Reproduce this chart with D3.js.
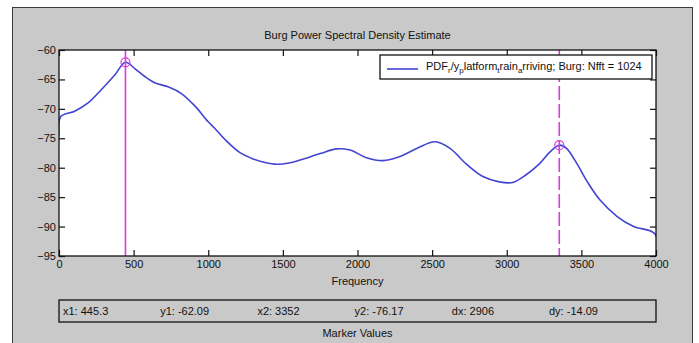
<!DOCTYPE html>
<html>
<head>
<meta charset="utf-8">
<script src="https://cdn.jsdelivr.net/npm/d3@7"></script>
<style>
  html, body { margin: 0; padding: 0; background: #ffffff; }
  svg { display: block; }
  text { font-family: "Liberation Sans", Arial, sans-serif; fill: #111; }
</style>
</head>
<body>
<svg id="chart" width="699" height="343"></svg>
<script>
// Burg PSD estimate (dB/Hz) read across the band, Hz
const freqs = [0, 12, 105, 195, 285, 375, 445.3, 510, 575, 645, 735, 820, 910, 1000,
  1040, 1120, 1210, 1300, 1380, 1460, 1540, 1615, 1750, 1860, 1950, 2060, 2170, 2285, 2400,
  2520, 2620, 2730, 2840, 2950, 3040, 3130, 3220, 3290, 3352, 3400, 3470, 3540, 3625,
  3740, 3850, 3995, 4000];
const power = [-74.5, -71.3, -70.4, -69.0, -66.7, -64.2, -62.09, -63.2, -64.5, -65.6, -66.3,
  -67.4, -69.5, -72.2, -73.2, -75.4, -77.4, -78.5, -79.1, -79.4, -79.2, -78.7, -77.6, -76.8,
  -77.0, -78.3, -78.8, -78.1, -76.7, -75.6, -76.7, -79.4, -81.5, -82.4, -82.5, -81.2,
  -79.3, -77.3, -76.17, -76.7, -79.3, -82.4, -85.5, -88.3, -90.0, -91.3, -98.0];

// Data cursors
const markerFreq = [445.3, 3352];
const markerPow = [-62.09, -76.17];
const markerLabels = ["x1: 445.3", "y1: -62.09", "x2: 3352", "y2: -76.17", "dx: 2906", "dy: -14.09"];

// Axis ticks
const xTicks = [0, 500, 1000, 1500, 2000, 2500, 3000, 3500, 4000];
const yTicks = [-95, -90, -85, -80, -75, -70, -65, -60];

const titleText = "Burg Power Spectral Density Estimate";
const xLabel = "Frequency";
const boxLabel = "Marker Values";

const svg = d3.select("#chart");
const plot = { left: 59, top: 50, right: 656, bottom: 256 };
const panelFill = "#c9c9c9";
const lineColor = "#4343d4";
const cursorColor = "#dc3adc";

// figure panel
svg.append("rect")
  .attr("x", 12.5).attr("y", 7.5).attr("width", 680).attr("height", 340)
  .attr("fill", panelFill).attr("stroke", "#3a3a3a").attr("stroke-width", 1);

const x = d3.scaleLinear().domain([0, 4000]).range([plot.left, plot.right]);
const y = d3.scaleLinear().domain([-95, -60]).range([plot.bottom, plot.top]);

// plot area
svg.append("rect")
  .attr("x", plot.left).attr("y", plot.top)
  .attr("width", plot.right - plot.left).attr("height", plot.bottom - plot.top)
  .attr("fill", "#ffffff");

svg.append("clipPath").attr("id", "plotClip")
  .append("rect")
  .attr("x", plot.left).attr("y", plot.top)
  .attr("width", plot.right - plot.left).attr("height", plot.bottom - plot.top);

// axes with inward ticks on all four sides
const axisFont = g => g.selectAll("text")
  .style("font-family", "'Liberation Sans', Arial, sans-serif")
  .style("font-size", "11px").attr("fill", "#111");

const gx = svg.append("g").attr("transform", `translate(0,${plot.bottom})`)
  .call(d3.axisBottom(x).tickValues(xTicks).tickFormat(d3.format("d"))
    .tickSizeInner(-6).tickSizeOuter(0).tickPadding(4));
gx.call(axisFont);

const gy = svg.append("g").attr("transform", `translate(${plot.left},0)`)
  .call(d3.axisLeft(y).tickValues(yTicks).tickFormat(d3.format("d"))
    .tickSizeInner(-6).tickSizeOuter(0).tickPadding(3));
gy.call(axisFont);

svg.append("g").attr("transform", `translate(0,${plot.top})`)
  .call(d3.axisTop(x).tickValues(xTicks).tickFormat("").tickSizeInner(-6).tickSizeOuter(0));
svg.append("g").attr("transform", `translate(${plot.right},0)`)
  .call(d3.axisRight(y).tickValues(yTicks).tickFormat("").tickSizeInner(-6).tickSizeOuter(0));

svg.selectAll(".domain").remove();
svg.selectAll(".tick line").attr("stroke", "#111").attr("stroke-width", 1.2);

// PSD curve
const pts = freqs.map((f, i) => [f, power[i]]);
const line = d3.line().x(d => x(d[0])).y(d => y(d[1])).curve(d3.curveCatmullRom.alpha(0.5));
svg.append("path").datum(pts)
  .attr("clip-path", "url(#plotClip)")
  .attr("d", line)
  .attr("fill", "none").attr("stroke", lineColor).attr("stroke-width", 1.6);

// cursor lines and circles
markerFreq.forEach((f, i) => {
  svg.append("line")
    .attr("x1", x(f)).attr("x2", x(f)).attr("y1", plot.top).attr("y2", plot.bottom)
    .attr("stroke", cursorColor).attr("stroke-width", 1.6)
    .attr("stroke-dasharray", i === 1 ? "14,4" : null);
  svg.append("circle")
    .attr("cx", x(f)).attr("cy", y(markerPow[i])).attr("r", 4.5)
    .attr("fill", "none").attr("stroke", cursorColor).attr("stroke-width", 1.2);
});

// plot frame
svg.append("rect")
  .attr("x", plot.left).attr("y", plot.top)
  .attr("width", plot.right - plot.left).attr("height", plot.bottom - plot.top)
  .attr("fill", "none").attr("stroke", "#111").attr("stroke-width", 1.3);

// title and x label
svg.append("text").attr("x", (plot.left + plot.right) / 2).attr("y", 39)
  .attr("text-anchor", "middle").style("font-size", "11px").text(titleText);
svg.append("text").attr("x", (plot.left + plot.right) / 2).attr("y", 285)
  .attr("text-anchor", "middle").style("font-size", "11px").text(xLabel);

// legend
const lg = svg.append("g");
lg.append("rect").attr("x", 380).attr("y", 55).attr("width", 272).attr("height", 24)
  .attr("fill", "#ffffff").attr("stroke", "#111").attr("stroke-width", 1.3);
lg.append("line").attr("x1", 387).attr("x2", 418).attr("y1", 69).attr("y2", 69)
  .attr("stroke", lineColor).attr("stroke-width", 1.6);
const lt = lg.append("text").attr("x", 426).attr("y", 70).style("font-size", "11px");
const legendParts = [
  ["PDF", false], ["r", true], ["/y", false], ["p", true], ["latform", false],
  ["t", true], ["rain", false], ["a", true], ["rriving; Burg: Nfft = 1024", false]
];
let prevSub = false;
legendParts.forEach(([s, sub]) => {
  lt.append("tspan")
    .attr("dy", sub ? 3 : (prevSub ? -3 : 0))
    .style("font-size", sub ? "8px" : "11px")
    .text(s);
  prevSub = sub;
});

// marker values box
svg.append("rect").attr("x", plot.left).attr("y", 300)
  .attr("width", plot.right - plot.left).attr("height", 22)
  .attr("fill", panelFill).attr("stroke", "#111").attr("stroke-width", 1.3);
svg.append("g").selectAll("text").data(markerLabels).join("text")
  .attr("x", (d, i) => 63 + i * 97.2).attr("y", 315)
  .style("font-size", "11px").text(d => d);
svg.append("text").attr("x", (plot.left + plot.right) / 2).attr("y", 337)
  .attr("text-anchor", "middle").style("font-size", "11px").text(boxLabel);
</script>
</body>
</html>
